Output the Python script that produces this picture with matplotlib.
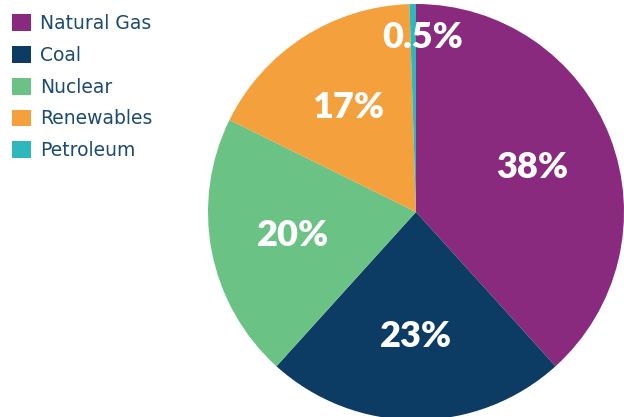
import numpy as np
import matplotlib.pyplot as plt
from matplotlib.patches import Patch

sources = ["Natural Gas", "Coal", "Nuclear", "Renewables", "Petroleum"]
shares = [38.3, 23.4, 20.6, 17.2, 0.5]
share_labels = ["38%", "23%", "20%", "17%", "0.5%"]
colors = ["#8a2a7e", "#0c3b63", "#6bc285", "#f4a03c", "#2eb8be"]

text_col = "#1b4a72"

fig = plt.figure(figsize=(6.24, 4.17), dpi=100)
ax = fig.add_axes([208 / 624, -3 / 417, 416 / 624, 416 / 417])

wedges, _ = ax.pie(shares, colors=colors, startangle=90, counterclock=False,
                   radius=1.0, wedgeprops=dict(linewidth=0))
ax.set_xlim(-1, 1)
ax.set_ylim(-1, 1)
ax.set_aspect("equal")
ax.axis("off")

# percentage labels at the middle of each wedge
for w, lab in zip(wedges, share_labels):
    mid = np.deg2rad((w.theta1 + w.theta2) / 2)
    r = 0.84 if lab == "0.5%" else 0.6
    dx = 7 if lab == "0.5%" else 0
    ax.annotate(lab, (r * np.cos(mid), r * np.sin(mid)), xytext=(dx, 0),
                textcoords="offset points", ha="center", va="center",
                color="white", fontsize=26, fontweight="heavy", family="Lato")

handles = [Patch(facecolor=c, edgecolor="none") for c in colors]
leg = fig.legend(handles, sources, loc="upper left", bbox_to_anchor=(-0.003, 1.0),
                 frameon=False, fontsize=13.5, handlelength=1.0, handleheight=1.0,
                 handletextpad=0.5, labelspacing=0.68, borderaxespad=0.35)
for t in leg.get_texts():
    t.set_color(text_col)

fig.savefig("out.png", dpi=100)
